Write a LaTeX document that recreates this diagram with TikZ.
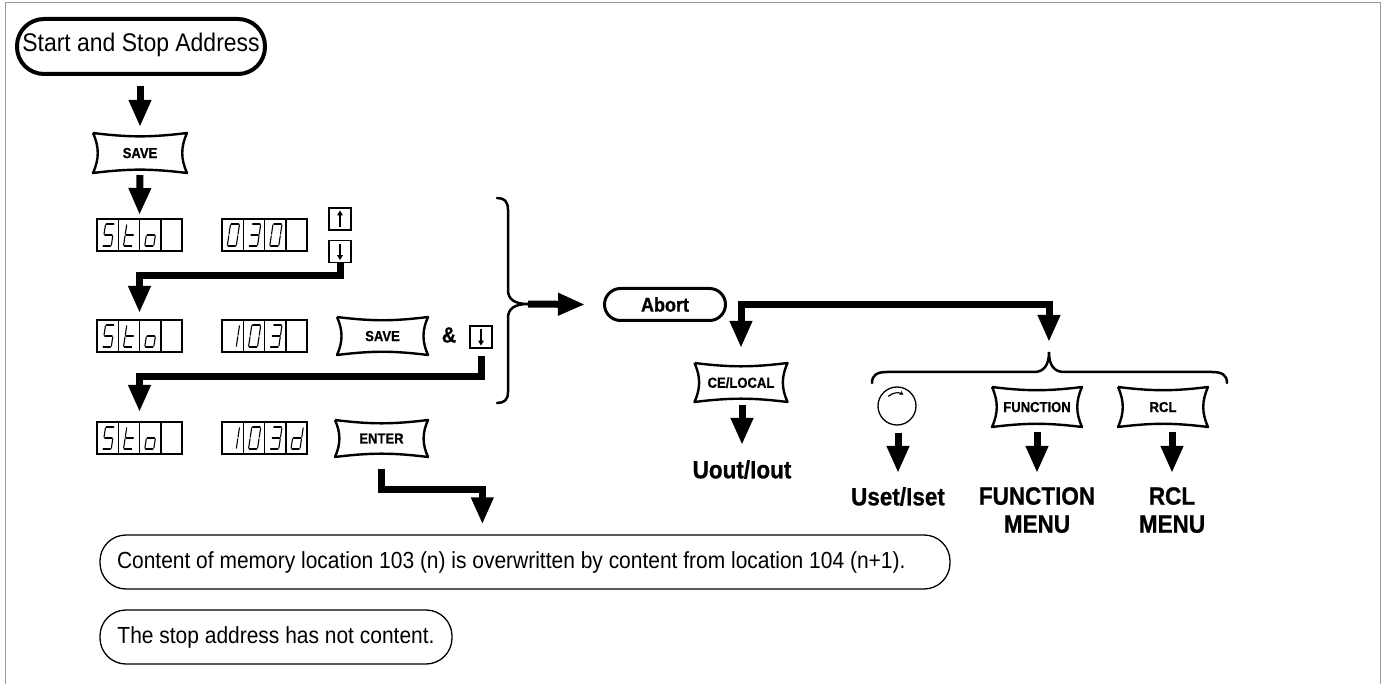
\documentclass[tikz,border=0pt]{standalone}
\usepackage{fontspec}
\setmainfont{Liberation Sans}[FakeStretch=0.9,BoldFeatures={FakeBold=0.8}]
\usetikzlibrary{arrows.meta,calc,shapes.misc}

\newcommand\fStart{\fontsize{25.5}{30}\selectfont}
\newcommand\fMsg{\fontsize{23.3}{28}\selectfont}
\newcommand\fKey{\bfseries\fontsize{14.5}{16}\selectfont}
\newcommand\fLab{\bfseries\fontsize{25}{28}\selectfont}
\newcommand\fAbort{\bfseries\fontsize{20}{24}\selectfont}

\newcommand\SGa{\draw[segline] (5.3,-27) -- (12.7,-27);}
\newcommand\SGb{\draw[segline] (13.5,-26.2) -- (13.5,-16.8);}
\newcommand\SGc{\draw[segline] (13.5,-15.2) -- (13.5,-5.8);}
\newcommand\SGd{\draw[segline] (5.3,-5) -- (12.7,-5);}
\newcommand\SGe{\draw[segline] (4.5,-5.8) -- (4.5,-15.2);}
\newcommand\SGf{\draw[segline] (4.5,-16.8) -- (4.5,-26.2);}
\newcommand\SGg{\draw[segline] (5.3,-16) -- (12.7,-16);}
\newcommand\gly[3]{\begin{scope}[shift={(#1,#2)},xslant=0.15]\foreach \s in {#3}{\csname SG\s\endcsname}\end{scope}}
\newcommand\lcd[3]{%
  \node[lcdbox,anchor=north west] (#1) at (#2,#3) {};
  \foreach \i in {1,2,3}{\draw[lcdline] ($(#1.north west)!\i/4!(#1.north east)$) -- ($(#1.south west)!\i/4!(#1.south east)$);}
}
\newcommand\keyframe[1]{\draw[keyline] (#1.north west) to[bend right=7] (#1.north east) to[bend right=24] (#1.south east) to[bend right=7] (#1.south west) to[bend right=24] (#1.north west);}

\begin{document}
\begin{tikzpicture}[x=1pt,y=-1pt,
  bigarrow/.style={line width=7pt,-{Triangle[length=27pt,width=21pt]}},
  bigboth/.style={line width=7pt,{Triangle[length=27pt,width=21pt]}-{Triangle[length=27pt,width=21pt]}},
  keyline/.style={line width=2.4pt,line join=round},
  keybox/.style={inner sep=0pt,outer sep=0pt,font=\fKey,text depth=0pt},
  smallkey/.style={draw,line width=1.3pt,minimum size=22pt,inner sep=0pt},
  keyarr/.style={line width=1.6pt,-{Triangle[length=5pt,width=5.5pt]}},
  lcdbox/.style={draw,line width=1.5pt,minimum width=85pt,minimum height=32pt,inner sep=0pt,outer sep=0pt},
  lcdline/.style={line width=1.5pt},
  segline/.style={line width=1.1pt,line cap=round},
  bracestyle/.style={line width=2.5pt,line cap=round},
  lab/.style={font=\fLab,inner sep=0pt,align=center,anchor=north},
  msgbox/.style={draw,line width=1.3pt,rectangle,rounded corners=26pt,minimum height=54pt,font=\fMsg,inner xsep=17pt,inner ysep=0pt}
]
\useasboundingbox (0,0) rectangle (1382,684);
\draw[black!40,line width=1pt] (5.5,684) -- (5.5,2.5) -- (1380.5,2.5) -- (1380.5,684);

% start
\node[draw,rectangle,rounded corners=27pt,line width=4pt,minimum width=248pt,minimum height=55pt,inner xsep=1pt,font=\fStart,text height=18pt,text depth=7pt] (start) at (141,46.5) {Start and Stop Address};

% SAVE key 1
\node[keybox,minimum width=94pt,minimum height=40pt] (save1) at (140,153) {SAVE};
\keyframe{save1}
\draw[bigarrow,shorten <=10pt,shorten >=6pt] (start.south -| save1.north) -- (save1.north);

% row 1
\lcd{lcd11}{97}{219}
\lcd{lcd12}{222}{219}
\gly{97}{251}{a,f,g,c,d}
\gly{118.25}{251}{f,e,g,d}
\gly{139.5}{251}{g,c,d,e}
\gly{222}{251}{a,b,c,d,e,f}
\gly{243.25}{251}{a,b,g,c,d}
\gly{264.5}{251}{a,b,c,d,e,f}
\draw[bigarrow,shorten <=2pt,shorten >=4pt] (save1.south) -- (lcd11.north);
\node[smallkey] (up1) at (340,219) {};
\draw[keyarr] ([yshift=4pt]up1.south) -- ([yshift=-3pt]up1.north);
\node[smallkey] (down1) at (340,251.5) {};
\draw[keyarr] ([yshift=-4pt]down1.north) -- ([yshift=3pt]down1.south);

% row 2
\lcd{lcd21}{97}{320}
\lcd{lcd22}{222}{320}
\gly{97}{352}{a,f,g,c,d}
\gly{118.25}{352}{f,e,g,d}
\gly{139.5}{352}{g,c,d,e}
\gly{222}{352}{b,c}
\gly{243.25}{352}{a,b,c,d,e,f}
\gly{264.5}{352}{a,b,g,c,d}
\node[keybox,minimum width=91pt,minimum height=38pt] (save2) at (382.5,336) {SAVE};
\keyframe{save2}
\node[font=\bfseries\fontsize{22}{24}\selectfont,inner sep=0pt] (amp) at (449,335) {\&};
\node[smallkey] (down2) at (481,337) {};
\draw[keyarr] ([yshift=-4pt]down2.north) -- ([yshift=3pt]down2.south);
\draw[bigarrow] (down1.south) |- ($(lcd21.north)+(0,-44)$) -- ([yshift=7pt]lcd21.north);

% row 3
\lcd{lcd31}{97}{422}
\lcd{lcd32}{222}{422}
\gly{97}{454}{a,f,g,c,d}
\gly{118.25}{454}{f,e,g,d}
\gly{139.5}{454}{g,c,d,e}
\gly{222}{454}{b,c}
\gly{243.25}{454}{a,b,c,d,e,f}
\gly{264.5}{454}{a,b,g,c,d}
\gly{285.75}{454}{b,c,d,e,g}
\node[keybox,minimum width=93pt,minimum height=37pt] (enter) at (381.5,438.5) {ENTER};
\keyframe{enter}
\draw[bigarrow,shorten <=7pt] (down2.south) |- ($(lcd31.north)+(0,-45)$) -- ([yshift=10pt]lcd31.north);

% bottom messages
\node[msgbox,text width=816pt,align=flush left] (box1) at (525,562) {Content of memory location 103 (n) is overwritten by content from location 104 (n+1).};
\node[msgbox,minimum width=352pt] (box2) at (276,637) {The stop address has not content.};
\draw[bigarrow,shorten <=12pt] (enter.south) |- ([xshift=383pt,yshift=45pt]box1.north west) -- ([xshift=383pt,yshift=10pt]box1.north west);

% left brace
\coordinate (bracetip) at (528,304);
\draw[bracestyle] (497,198) .. controls (504,198) and (508,201) .. (508,210) -- (508,290) .. controls (508,299) and (514,304) .. (bracetip) .. controls (514,304) and (508,309) .. (508,318) -- (508,392) .. controls (508,400) and (504,403) .. (497,403);

% abort
\node[draw,rectangle,rounded corners=16pt,line width=3pt,minimum width=121pt,minimum height=32pt,font=\fAbort,inner sep=0pt] (abort) at (665,304.5) {Abort};
\draw[bigarrow] (bracetip) -- ([xshift=-18pt]abort.west);

% right brace
\coordinate (bracepeak) at (1049,352);
\draw[bracestyle] (872,383) .. controls (872,375) and (877,372) .. (887,372) -- (1034,372) .. controls (1044,372) and (1049,365) .. (bracepeak) .. controls (1049,365) and (1054,372) .. (1064,372) -- (1212,372) .. controls (1222,372) and (1227,375) .. (1227,383);

% CE/LOCAL
\node[keybox,minimum width=93pt,minimum height=39pt] (celocal) at (741,382.5) {CE/LOCAL};
\keyframe{celocal}
\draw[bigboth] ([yshift=15pt]celocal.north) |- ([yshift=47.5pt]bracepeak) -- ([yshift=10pt]bracepeak);
\node[lab] (uout) at (742,460) {Uout/Iout};
\draw[bigarrow,shorten <=3pt,shorten >=15pt] (celocal.south -| uout.north) -- (uout.north);

% knob
\node[circle,draw,line width=1.3pt,minimum size=38pt,inner sep=0pt] (knob) at (897,406) {};
\draw[line width=1.2pt,-{Stealth[length=4pt,width=4.5pt]}] ($(knob.center)+(228:13)$) arc[start angle=228,end angle=300,radius=13];
\node[lab] (uset) at (898,487) {Uset/Iset};
\draw[bigarrow,shorten <=7pt,shorten >=14pt] (knob.south -| uset.north) -- (uset.north);

% FUNCTION
\node[keybox,minimum width=90pt,minimum height=40pt] (func) at (1037,407) {FUNCTION};
\keyframe{func}
\node[lab] (funcmenu) at (1037,487) {FUNCTION\\MENU};
\draw[bigarrow,shorten <=5pt,shorten >=14pt] (func.south) -- (funcmenu.north);

% RCL
\node[keybox,minimum width=90pt,minimum height=40pt] (rcl) at (1163,407) {RCL};
\keyframe{rcl}
\node[lab] (rclmenu) at (1172,487) {RCL\\MENU};
\draw[bigarrow,shorten <=5pt,shorten >=14pt] (rclmenu.north |- rcl.south) -- (rclmenu.north);
\end{tikzpicture}
\end{document}
